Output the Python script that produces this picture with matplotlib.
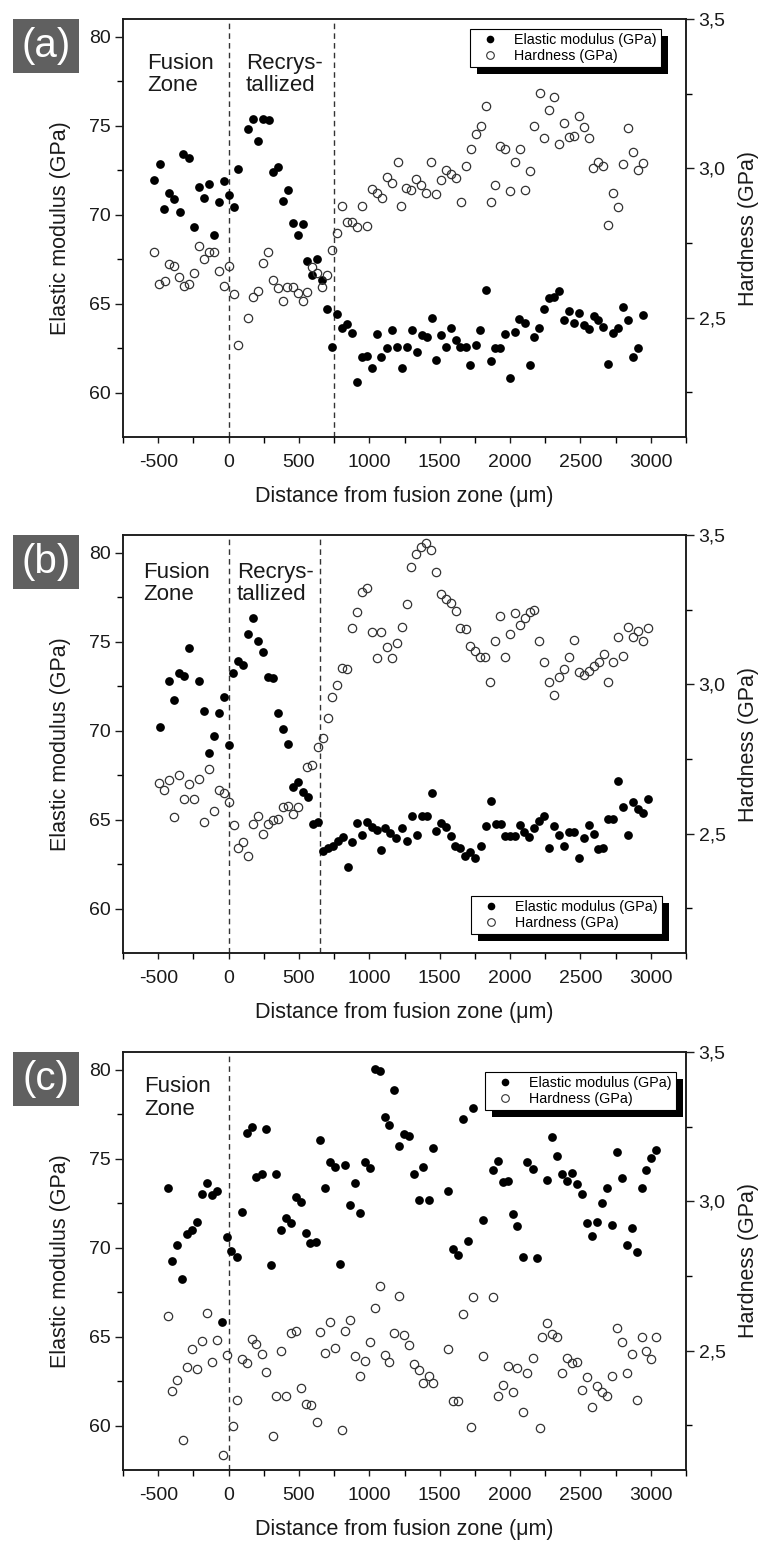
import matplotlib
matplotlib.use("Agg")
import matplotlib.pyplot as plt
from matplotlib import font_manager
from matplotlib.lines import Line2D
from matplotlib.patches import Rectangle
import matplotlib.patheffects as pe

names = {f.name for f in font_manager.fontManager.ttflist}
font = "Liberation Sans" if "Liberation Sans" in names else "DejaVu Sans"
tickfont = "Liberation Sans Narrow" if "Liberation Sans Narrow" in names else font
plt.rcParams['font.family'] = [font, 'DejaVu Sans']
plt.rcParams['axes.unicode_minus'] = False

# ---------------- panel (a) ----------------
a_E_x = [-528, -487, -457, -423, -388, -345, -322, -281, -243, -210, -172, -139, -101, -68, -33, 1, 38, 69,
         138, 176, 211, 247, 285, 313, 353, 389, 424, 460, 495, 531, 559, 595, 630, 666,
         697, 732, 773, 803, 844, 879, 915, 945, 981, 1021, 1052, 1085, 1123,
         1159, 1194, 1230, 1265, 1301, 1336, 1372, 1407, 1443, 1474, 1509, 1545, 1578, 1616, 1644, 1684, 1715, 1755,
         1786, 1827, 1862, 1893, 1928, 1964, 1999, 2035, 2066, 2106, 2141, 2172, 2208, 2241, 2276, 2312, 2350, 2383,
         2421, 2454, 2490, 2525, 2561, 2596, 2627, 2663, 2698, 2734, 2769, 2805, 2840, 2876, 2911, 2947]
a_E = [71.95, 72.83, 70.32, 71.24, 70.86, 70.13, 73.39, 73.18, 69.33, 71.57, 70.92, 71.70, 68.86, 70.73, 71.89,
       71.10, 70.41, 72.55,
       74.79, 75.37, 74.14, 75.36, 75.30, 72.38, 72.70, 70.75, 71.39, 69.51, 68.88, 69.48, 67.38, 66.61, 67.53, 66.33,
       64.68, 62.58, 64.42, 63.61, 63.86, 63.33, 60.62, 61.99, 62.06, 61.37, 63.28, 62.02, 62.49,
       63.52, 62.58, 61.37, 62.58, 63.52, 62.30, 63.24, 63.11, 64.18, 61.84, 63.24, 62.58, 63.65, 62.96, 62.58,
       62.58, 61.55, 62.68, 63.52, 65.77, 61.78, 62.49, 62.49, 63.28, 60.84, 63.39, 64.14, 63.90, 61.55, 63.11,
       63.65, 64.70, 65.30, 65.39, 65.73, 64.08, 64.59, 63.90, 64.46, 63.80, 63.58, 64.31, 64.08, 63.71, 61.61,
       63.33, 63.61, 64.79, 64.08, 62.02, 62.49, 64.36]
a_H_x = [-528, -492, -452, -423, -388, -352, -317, -279, -243, -210, -175, -139, -104, -68, -33, 1, 38, 69,
         140, 176, 211, 247, 282, 313, 353, 389, 417, 460, 495, 526, 559, 595, 630, 666,
         697, 732, 773, 808, 839, 874, 910, 945, 981, 1017, 1052,
         1088, 1123, 1159, 1206, 1225, 1260, 1296, 1332, 1367, 1403, 1438, 1474, 1509, 1542, 1578, 1613, 1649,
         1684, 1720, 1755, 1791, 1827, 1862, 1893, 1928, 1964, 1999, 2035, 2070, 2106, 2141, 2172, 2213, 2243,
         2279, 2312, 2348, 2383, 2419, 2454, 2490, 2525, 2561, 2591, 2627, 2663, 2698, 2734, 2769, 2805, 2840,
         2876, 2911, 2947]
a_H = [2.719, 2.612, 2.621, 2.680, 2.674, 2.637, 2.607, 2.612, 2.648, 2.741, 2.695, 2.719, 2.721, 2.656, 2.607,
       2.674, 2.579, 2.408,
       2.498, 2.570, 2.589, 2.682, 2.721, 2.626, 2.598, 2.556, 2.602, 2.604, 2.581, 2.556, 2.587, 2.671, 2.648, 2.602,
       2.643, 2.727, 2.782, 2.875, 2.821, 2.821, 2.805, 2.875, 2.808, 2.931, 2.916,
       2.900, 2.972, 2.950, 3.022, 2.875, 2.935, 2.927, 2.963, 2.944, 2.916, 3.022, 2.913, 2.961, 2.994, 2.980,
       2.967, 2.888, 3.006, 3.065, 3.114, 3.143, 3.209, 2.886, 2.944, 3.076, 3.065, 2.924, 3.020, 3.065, 2.927,
       2.991, 3.143, 3.251, 3.103, 3.195, 3.240, 3.081, 3.151, 3.106, 3.109, 3.175, 3.137, 3.103, 3.000, 3.020,
       3.009, 2.810, 2.916, 2.872, 3.013, 3.134, 3.056, 2.994, 3.017]

# ---------------- panel (b) ----------------
b_E_x = [-487, -421, -388, -350, -315, -281, -210, -172, -137, -104, -68, -33, 1, 34, 69, 105, 140, 176, 211, 247,
         278, 313, 349, 389, 424, 460, 495, 531, 567, 597, 633, 668, 709, 744, 780, 810, 846, 879, 915, 950,
         981, 1017, 1052,
         1080, 1111, 1147, 1189, 1230, 1265, 1301, 1336, 1372, 1407, 1443, 1474, 1509, 1542, 1578, 1609, 1644,
         1680, 1715, 1751, 1791, 1827, 1862, 1898, 1933, 1964, 1999, 2035, 2070, 2101, 2137, 2172, 2208, 2243,
         2279, 2312, 2348, 2383, 2419, 2454, 2490, 2525, 2561, 2596, 2627, 2663, 2698, 2734, 2769, 2805, 2840,
         2876, 2911, 2947, 2982]
b_E = [70.19, 72.81, 71.74, 73.25, 73.10, 74.65, 72.78, 71.13, 68.74, 69.68, 70.99, 71.88, 69.17, 73.25, 73.94,
       73.68, 75.46, 76.34, 75.03, 74.43, 73.00, 72.96, 70.99, 70.09, 69.27, 66.81, 67.09, 66.53, 66.25, 64.77,
       64.84, 63.25, 63.40, 63.53, 63.77, 64.02, 62.31, 63.73, 64.80, 64.15, 64.86, 64.56, 64.43,
       63.30, 64.52, 64.24, 63.96, 64.52, 63.77, 65.18, 64.15, 65.18, 65.23, 66.49, 64.37, 64.80, 64.58, 64.05,
       63.49, 63.40, 62.93, 63.17, 62.83, 63.49, 64.62, 66.06, 64.77, 64.77, 64.05, 64.05, 64.05, 64.71, 64.33,
       64.01, 64.52, 64.90, 65.22, 63.40, 64.62, 64.15, 63.49, 64.30, 64.30, 62.83, 63.96, 64.71, 64.20, 63.34,
       63.40, 65.03, 65.03, 67.15, 65.70, 64.15, 65.97, 65.59, 65.37, 66.15]
b_H_x = [-492, -457, -421, -386, -350, -315, -279, -243, -210, -175, -139, -104, -68, -33, 1, 38, 69, 105, 140,
         176, 211, 247, 278, 313, 349, 389, 424, 455, 495, 559, 595, 633, 668, 704, 737, 773, 808, 844, 879, 915,
         945, 981, 1021, 1052,
         1080, 1123, 1159, 1194, 1230, 1265, 1296, 1332, 1367, 1403, 1438, 1474, 1509, 1545, 1578, 1613, 1644,
         1684, 1715, 1751, 1786, 1822, 1857, 1893, 1928, 1964, 1999, 2035, 2070, 2106, 2141, 2172, 2208, 2243,
         2279, 2312, 2348, 2383, 2419, 2454, 2490, 2525, 2561, 2596, 2632, 2667, 2698, 2734, 2769, 2805, 2840,
         2876, 2911, 2947, 2982]
b_H = [2.671, 2.646, 2.680, 2.555, 2.696, 2.616, 2.665, 2.616, 2.682, 2.538, 2.717, 2.574, 2.646, 2.635, 2.605,
       2.529, 2.453, 2.471, 2.425, 2.531, 2.559, 2.498, 2.531, 2.544, 2.548, 2.588, 2.594, 2.565, 2.588, 2.722,
       2.728, 2.789, 2.819, 2.888, 2.959, 2.998, 3.056, 3.050, 3.190, 3.243, 3.308, 3.321, 3.176, 3.089,
       3.176, 3.126, 3.087, 3.137, 3.191, 3.269, 3.394, 3.435, 3.461, 3.472, 3.450, 3.377, 3.301, 3.285, 3.271,
       3.247, 3.190, 3.185, 3.129, 3.113, 3.093, 3.090, 3.009, 3.146, 3.229, 3.093, 3.169, 3.238, 3.199, 3.221,
       3.243, 3.249, 3.146, 3.073, 3.009, 2.964, 3.026, 3.050, 3.093, 3.148, 3.042, 3.031, 3.046, 3.061, 3.074,
       3.102, 3.006, 3.074, 3.157, 3.096, 3.193, 3.157, 3.180, 3.146, 3.190]

# ---------------- panel (c) ----------------
c_E_x = [-433, -400, -364, -329, -293, -258, -222, -191, -156, -120, -85, -49, -14, 17, 57, 93, 128, 164, 195, 235,
         266, 301, 337, 372, 408, 443, 479, 514, 548, 578, 619, 649, 685, 720, 756, 792, 827, 863, 898, 934,
         969, 1005, 1040, 1076,
         1111, 1142, 1175, 1213, 1246, 1284, 1317, 1353, 1384, 1424, 1455, 1561, 1597, 1632, 1668, 1703, 1739,
         1810, 1881, 1916, 1947, 1983, 2018, 2051, 2089, 2122, 2160, 2194, 2265, 2300, 2336, 2366, 2402, 2437,
         2473, 2508, 2544, 2580, 2615, 2651, 2686, 2722, 2757, 2793, 2828, 2864, 2899, 2935, 2966, 2999, 3037]
c_E = [73.34, 69.27, 70.16, 68.22, 70.77, 71.02, 71.43, 73.02, 73.62, 72.97, 73.16, 65.81, 70.59, 69.84, 69.46,
       71.99, 76.46, 76.77, 74.00, 74.15, 76.68, 69.03, 74.15, 71.00, 71.66, 71.39, 72.84, 72.59, 70.83, 70.25,
       70.31, 76.06, 73.34, 74.81, 74.56, 69.09, 74.62, 72.41, 73.64, 71.94, 74.81, 74.49, 80.06, 79.95,
       77.34, 76.87, 78.87, 75.69, 76.40, 76.27, 74.15, 72.69, 74.52, 72.69, 75.59, 73.17, 69.93, 69.56, 77.21,
       70.36, 77.86, 71.58, 74.37, 74.86, 73.68, 73.72, 71.90, 71.21, 69.50, 74.81, 74.43, 69.42, 73.81, 76.21,
       75.18, 74.15, 73.72, 74.19, 73.59, 73.02, 71.37, 70.68, 71.43, 72.50, 73.34, 71.30, 75.37, 73.92, 70.16,
       71.11, 69.78, 73.36, 74.37, 75.03, 75.50]
c_H_x = [-433, -400, -364, -324, -293, -258, -222, -187, -151, -120, -85, -40, -14, 31, 57, 93, 128, 164, 195, 235,
         266, 317, 337, 372, 408, 443, 479, 514, 548, 583, 629, 649, 685, 720, 756, 807, 827, 863, 898, 934,
         969, 1005, 1040, 1076, 1111, 1142, 1175, 1213, 1246, 1284, 1317, 1353, 1384, 1424, 1455, 1561, 1597,
         1632, 1668, 1724, 1739, 1810, 1881, 1916, 1947, 1983, 2018, 2051, 2089, 2122, 2160, 2213, 2224, 2265,
         2300, 2336, 2366, 2402, 2437, 2473, 2508, 2544, 2580, 2615, 2651, 2686, 2722, 2757, 2793, 2828, 2864,
         2899, 2935, 2966, 2999, 3037]
c_H = [2.615, 2.366, 2.401, 2.201, 2.446, 2.506, 2.438, 2.531, 2.625, 2.463, 2.537, 2.150, 2.485, 2.247, 2.335,
       2.472, 2.457, 2.539, 2.522, 2.489, 2.427, 2.214, 2.347, 2.500, 2.349, 2.559, 2.565, 2.373, 2.321, 2.317,
       2.261, 2.562, 2.492, 2.595, 2.509, 2.234, 2.565, 2.601, 2.481, 2.416, 2.466, 2.528, 2.643, 2.715, 2.485,
       2.463, 2.559, 2.683, 2.553, 2.517, 2.455, 2.436, 2.391, 2.416, 2.391, 2.506, 2.332, 2.332, 2.621, 2.244,
       2.681, 2.481, 2.681, 2.349, 2.385, 2.450, 2.360, 2.441, 2.293, 2.425, 2.475, 2.241, 2.545, 2.593, 2.556,
       2.547, 2.425, 2.475, 2.459, 2.461, 2.369, 2.410, 2.310, 2.382, 2.362, 2.349, 2.416, 2.576, 2.528, 2.425,
       2.489, 2.335, 2.547, 2.497, 2.472, 2.547]

panel_labels = ["(a)", "(b)", "(c)"]
boundaries = [[0, 750], [0, 650], [0]]
zone_texts = [[(-580, 79.1, "Fusion\nZone"), (124, 79.1, "Recrys-\ntallized")],
              [(-608, 79.5, "Fusion\nZone"), (60, 79.5, "Recrys-\ntallized")],
              [(-601, 79.65, "Fusion\nZone")]]
xticks = [-500, 0, 500, 1000, 1500, 2000, 2500, 3000]
E_ticks = [60, 65, 70, 75, 80]
H_ticks = [2.5, 3.0, 3.5]
H_ticklabels = ["2,5", "3,0", "3,5"]

series = [(a_E_x, a_E, a_H_x, a_H), (b_E_x, b_E, b_H_x, b_H), (c_E_x, c_E, c_H_x, c_H)]
legend_pos = [("upper left", (0.616, 0.976)), ("lower left", (0.618, 0.045)), ("upper left", (0.643, 0.952))]
tops = [19, 535, 1052]

W, H = 760, 1544
ink = "#1a1a1a"
fig = plt.figure(figsize=(W / 100, H / 100), dpi=100)

for i in range(3):
    top = tops[i]
    ax = fig.add_axes([123 / W, 1 - (top + 418) / H, 563 / W, 418 / H])
    ax2 = ax.twinx()
    ex, ey, hx, hy = series[i]

    ax.plot(ex, ey, 'o', color='k', ms=6.3, mew=0, zorder=3)
    ax2.plot(hx, hy, 'o', mfc='none', mec='#333333', ms=6.0, mew=0.9, zorder=3)

    for b in boundaries[i]:
        ax.axvline(b, color='#333333', lw=1.0, ls=(0, (4, 3)), zorder=1)
    for tx, ty, s in zone_texts[i]:
        ax.text(tx, ty, s, fontsize=16, va='top', ha='left', color=ink, linespacing=1.1)

    ax.set_xlim(-750, 3250)
    ax.set_ylim(57.5, 81)
    ax2.set_ylim(2.1, 3.5)
    ax.set_xticks(xticks)
    ax.set_xticks(range(-750, 3251, 250), minor=True)
    ax.set_yticks(E_ticks)
    ax.set_yticks([62.5, 67.5, 72.5, 77.5], minor=True)
    ax2.set_yticks(H_ticks)
    ax2.set_yticklabels(H_ticklabels)
    ax2.set_yticks([2.25, 2.75, 3.25], minor=True)

    ax.tick_params(axis='y', which='major', direction='out', length=6, width=1, pad=3, labelsize=14,
                   colors=ink, right=False)
    ax.tick_params(axis='y', which='minor', direction='out', length=4, width=1, right=False)
    ax.tick_params(axis='x', which='major', direction='out', length=4, width=1, pad=8, labelsize=14,
                   colors=ink, top=False)
    ax.tick_params(axis='x', which='minor', direction='out', length=4, width=1, top=False)
    ax2.tick_params(axis='y', which='major', direction='out', length=6, width=1, pad=3, labelsize=14,
                    colors=ink)
    ax2.tick_params(axis='y', which='minor', direction='out', length=4, width=1)
    for lab in ax.get_xticklabels() + ax.get_yticklabels() + ax2.get_yticklabels():
        lab.set_fontfamily([tickfont, 'DejaVu Sans'])

    for a in (ax, ax2):
        for sp in a.spines.values():
            sp.set_linewidth(1.1)
            sp.set_color(ink)

    ax.set_ylabel("Elastic modulus (GPa)", fontsize=15.5, color=ink)
    ax.yaxis.set_label_coords(-0.092, 0.5)
    ax2.set_ylabel("Hardness (GPa)", fontsize=15.5, color=ink)
    ax2.yaxis.set_label_coords(1.092, 0.5)
    ax.set_xlabel("Distance from fusion zone (\u03bcm)", fontsize=15.5, color=ink)
    ax.xaxis.set_label_coords(0.5, -0.118)

    handles = [Line2D([], [], marker='o', ls='none', color='k', ms=5.5, mew=0),
               Line2D([], [], marker='o', ls='none', mfc='none', mec='#333333', ms=5.5, mew=0.8)]
    loc, anchor = legend_pos[i]
    leg = ax2.legend(handles, ["Elastic modulus (GPa)", "Hardness (GPa)"], loc=loc, bbox_to_anchor=anchor,
                     fontsize=10.3, frameon=True, fancybox=False, edgecolor='k', framealpha=1,
                     borderpad=0.3, handlelength=2.2, handletextpad=0.6, labelspacing=0.1,
                     borderaxespad=0)
    leg.get_frame().set_linewidth(0.8)
    leg.get_frame().set_path_effects([pe.SimplePatchShadow(offset=(5, -5), shadow_rgbFace='k', alpha=1.0),
                                      pe.Normal()])

    # grey panel tag
    fig.add_artist(Rectangle((13 / W, 1 - (top + 54) / H), 66 / W, 54 / H, transform=fig.transFigure,
                             facecolor='#606060', edgecolor='none'))
    fig.text(46 / W, 1 - (top + 27) / H, panel_labels[i], color='white', fontsize=29,
             ha='center', va='center')

fig.savefig("out.png", dpi=100)
